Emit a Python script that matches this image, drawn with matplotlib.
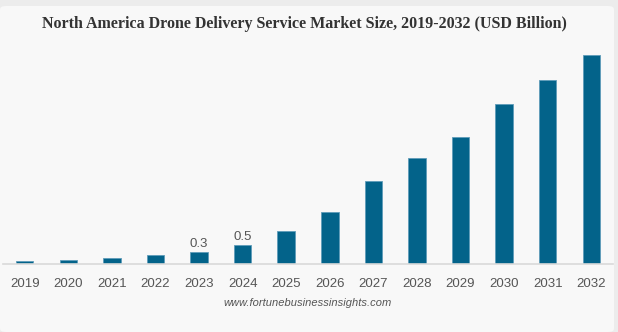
import numpy as np
import matplotlib
matplotlib.use("Agg")
import matplotlib.pyplot as plt
from matplotlib.patches import FancyBboxPatch

# Data (USD Billion)
years = ["2019", "2020", "2021", "2022", "2023", "2024", "2025",
         "2026", "2027", "2028", "2029", "2030", "2031", "2032"]
values = [0.07, 0.11, 0.16, 0.24, 0.31, 0.50, 0.89,
          1.38, 2.21, 2.83, 3.40, 4.28, 4.91, 5.59]
value_labels = {"2023": "0.3", "2024": "0.5"}

BAR_COLOR = "#03638a"
TEXT_GRAY = "#555555"

fig = plt.figure(figsize=(6.18, 3.32), dpi=100, facecolor="#ececec")

# card background
card = FancyBboxPatch((0.0, 0.0), 614 / 618, 326 / 332,
                      boxstyle="round,pad=0,rounding_size=0.01",
                      transform=fig.transFigure, facecolor="#f8f8f8",
                      edgecolor="none", zorder=-10)
fig.patches.append(card)

ax = fig.add_axes([2.9 / 618, (332 - 264) / 332, 610.2 / 618, (264 - 39.6) / 332])
ax.set_facecolor("none")

x = np.arange(len(years))
ax.bar(x, values, width=0.4, color=BAR_COLOR, edgecolor="#5f9cb9", linewidth=0.6, zorder=2)

for i, (yr, v) in enumerate(zip(years, values)):
    if yr in value_labels:
        ax.text(i, v + 0.06, value_labels[yr], ha="center", va="bottom",
                fontsize=9.5, color=TEXT_GRAY, family="Liberation Sans")

ax.set_xlim(-0.5, len(years) - 0.5)
ax.set_ylim(0, 6)
ax.set_xticks(x)
ax.set_xticklabels(years, fontsize=9.5, color=TEXT_GRAY, family="Liberation Sans")
ax.tick_params(axis="x", length=0, pad=10)
ax.set_yticks([])
for side in ["top", "right", "left"]:
    ax.spines[side].set_visible(False)
ax.spines["bottom"].set_color("#d9d9d9")
ax.spines["bottom"].set_linewidth(1.2)

fig.text(304 / 618, 1 - 24 / 332,
         "North America Drone Delivery Service Market Size, 2019-2032 (USD Billion)",
         ha="center", va="center", fontsize=11.5, fontweight="bold",
         family="Liberation Serif", color="#333333")

fig.text(308 / 618, 1 - 303 / 332, "www.fortunebusinessinsights.com",
         ha="center", va="center", fontsize=8, style="italic",
         family="Liberation Sans", color=TEXT_GRAY)

fig.savefig("out.png", dpi=100, facecolor=fig.get_facecolor())
